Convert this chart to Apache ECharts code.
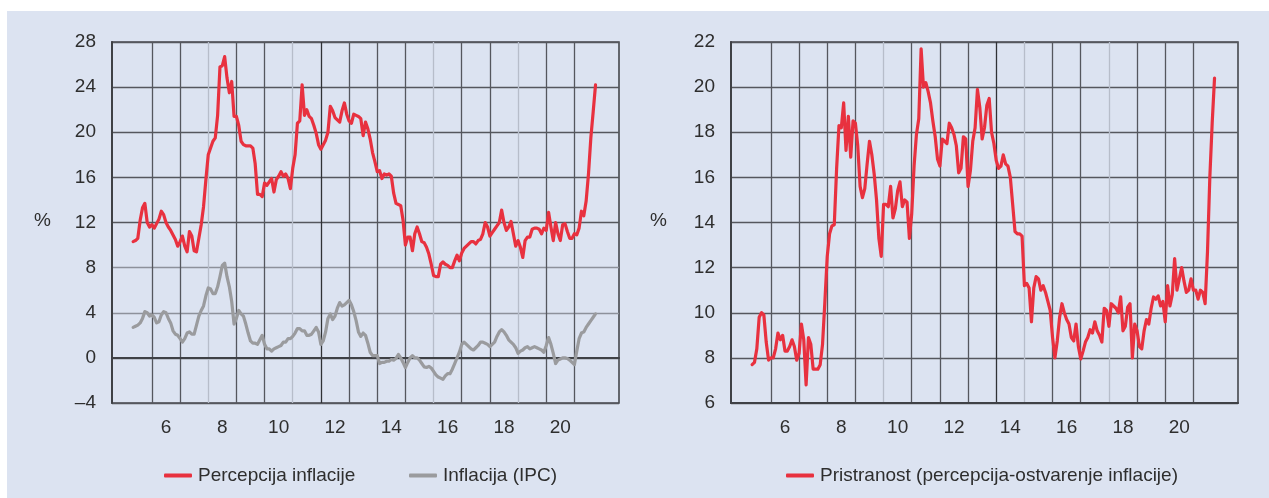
<!DOCTYPE html>
<html>
<head>
<meta charset="utf-8">
<script src="https://cdn.jsdelivr.net/npm/echarts@6/dist/echarts.min.js"></script>
<style>
html,body{margin:0;padding:0;background:#ffffff;}
#chart{width:1269px;height:498px;}
</style>
</head>
<body>
<div id="chart"></div>
<script>
// ---------- DATA (monthly, May 2005 – Oct 2021) ----------
const seriesStart = [2005, 5];   // first month of every series
const axisStart = [2004, 8];     // first month shown on the x axis
const axisMonthCount = 217;      // Aug 2004 – Aug 2022

const percepcija = [
  10.3, 10.4, 10.6, 12.2, 13.3, 13.7, 12.0, 11.6,
  11.8, 11.5, 11.9, 12.3, 13.0, 12.7, 12.0, 11.6, 11.3, 10.9, 10.5, 9.9,
  10.3, 10.8, 9.9, 9.4, 11.2, 10.8, 9.5, 9.4, 10.6, 11.8, 13.4, 15.8,
  18.0, 18.6, 19.2, 19.5, 21.5, 25.8, 25.9, 26.7, 24.8, 23.5, 24.5, 21.4,
  21.4, 20.6, 19.2, 18.9, 18.8, 18.8, 18.8, 18.6, 17.2, 14.5, 14.5, 14.3,
  15.5, 15.3, 15.6, 15.9, 14.7, 15.8, 16.1, 16.5, 16.1, 16.3, 15.9, 15.0,
  16.8, 18.0, 20.8, 21.0, 24.2, 21.5, 22.0, 21.4, 21.2, 20.6, 19.9, 18.9,
  18.5, 18.9, 19.3, 20.0, 22.3, 21.9, 21.3, 21.1, 20.9, 21.9, 22.6, 21.6,
  21.0, 20.8, 21.6, 21.5, 21.4, 21.2, 19.7, 20.9, 20.3, 19.4, 18.2, 17.4,
  16.5, 16.6, 15.9, 16.3, 16.2, 16.3, 16.1, 14.6, 13.7, 13.6, 13.5, 12.2,
  10.0, 10.7, 10.7, 9.5, 11.0, 11.6, 11.0, 10.3, 10.2, 9.8, 9.2, 8.3,
  7.3, 7.2, 7.2, 8.3, 8.5, 8.3, 8.2, 8.0, 8.0, 8.6, 9.1, 8.6,
  9.3, 9.7, 9.9, 10.1, 10.3, 10.3, 10.1, 10.4, 10.5, 11.0, 12.0, 11.6,
  10.8, 11.1, 11.4, 11.7, 12.0, 13.1, 12.0, 11.3, 11.6, 12.1, 11.0, 9.9,
  10.4, 9.8, 8.9, 10.4, 10.7, 10.7, 11.4, 11.5, 11.5, 11.4, 11.0, 11.5,
  11.3, 12.9, 11.6, 10.4, 12.0, 11.0, 10.4, 11.8, 11.9, 11.2, 10.6, 10.6,
  11.0, 10.9, 11.5, 13.0, 12.6, 13.9, 16.3, 19.5, 21.8, 24.2
];

const inflacijaIPC = [
  2.7, 2.8, 2.9, 3.1, 3.5, 4.1, 4.0, 3.7,
  3.8, 3.6, 3.1, 3.2, 3.8, 4.1, 4.0, 3.5, 3.1, 2.4, 2.1, 2.0,
  1.7, 1.4, 1.7, 2.2, 2.3, 2.1, 2.1, 2.9, 3.7, 4.2, 4.6, 5.5,
  6.2, 6.1, 5.7, 5.7, 6.3, 7.2, 8.2, 8.4, 7.2, 6.3, 5.0, 3.0,
  3.5, 4.2, 3.9, 3.7, 3.0, 2.2, 1.5, 1.3, 1.3, 1.2, 1.6, 2.0,
  1.2, 0.8, 0.8, 0.6, 0.8, 0.9, 1.0, 1.1, 1.4, 1.4, 1.7, 1.7,
  1.9, 2.2, 2.6, 2.6, 2.4, 2.4, 2.0, 2.0, 2.1, 2.4, 2.7, 2.3,
  1.2, 1.5, 2.3, 3.5, 3.9, 3.4, 3.7, 4.4, 4.9, 4.6, 4.7, 4.9,
  5.1, 4.7, 4.1, 3.3, 2.3, 1.9, 2.2, 2.0, 1.3, 0.5, 0.2, 0.2,
  0.2, -0.5, -0.4, -0.4, -0.3, -0.3, -0.15, -0.2, -0.05, 0.3, 0.0, -0.4,
  -0.85, -0.4, 0.0, 0.2, 0.0, 0.0, -0.2, -0.5, -0.8, -0.85, -0.75, -0.9,
  -1.2, -1.5, -1.7, -1.8, -1.9, -1.6, -1.4, -1.4, -1.0, -0.5, 0.0, 0.5,
  1.2, 1.4, 1.2, 1.0, 0.8, 0.7, 0.9, 1.1, 1.4, 1.4, 1.3, 1.2,
  1.0, 1.2, 1.4, 1.9, 2.3, 2.5, 2.3, 2.0, 1.6, 1.4, 1.2, 0.9,
  0.4, 0.6, 0.7, 0.9, 1.0, 0.8, 0.9, 1.0, 0.9, 0.8, 0.7, 0.5,
  1.1, 1.8, 1.2, 0.4, -0.5, -0.2, -0.1, 0.0, 0.0, -0.05, -0.2, -0.4,
  -0.6, 0.6, 1.7, 2.2, 2.3, 2.7, 3.0, 3.3, 3.6, 3.9
];

const pristranost = [
  7.7, 7.8, 8.4, 9.8, 10.0, 9.9, 8.7, 7.9,
  8.0, 8.0, 8.4, 9.1, 8.8, 9.0, 8.3, 8.3, 8.5, 8.8, 8.5, 7.9,
  8.2, 9.5, 8.8, 6.8, 8.9, 8.6, 7.5, 7.5, 7.5, 7.7, 8.6, 10.5,
  12.5, 13.5, 13.85, 13.9, 16.4, 18.3, 18.2, 19.3, 17.2, 18.7, 16.9, 18.5,
  18.4, 17.4, 15.6, 15.1, 15.5, 16.6, 17.6, 17.0, 16.15, 15.0, 13.3, 12.5,
  14.8, 14.8, 14.7, 15.6, 14.2, 14.6, 15.4, 15.8, 14.7, 15.0, 14.9, 13.3,
  14.4, 16.5, 17.9, 18.6, 21.7, 20.0, 20.2, 19.8, 19.3, 18.5, 17.8, 16.8,
  16.5, 17.7, 17.6, 17.5, 18.4, 18.2, 17.9, 17.4, 16.2, 16.4, 17.8, 17.7,
  15.6, 16.3, 17.6, 18.2, 19.9, 19.1, 17.7, 18.2, 19.2, 19.5, 18.0, 17.5,
  16.75, 16.4, 16.5, 17.0, 16.6, 16.5, 16.0, 14.8, 13.6, 13.5, 13.5, 13.4,
  11.2, 11.3, 11.1, 9.6, 11.1, 11.6, 11.5, 11.0, 11.2, 10.9, 10.5, 10.1,
  8.9, 8.0, 8.75, 9.8, 10.4, 10.0, 9.7, 9.5, 8.9, 8.75, 9.5, 8.5,
  7.95, 8.3, 8.7, 8.9, 9.25, 9.1, 9.6, 9.2, 9.0, 8.7, 10.2, 10.1,
  9.4, 10.4, 10.3, 10.2, 10.0, 10.7, 9.2, 9.4, 10.25, 10.4, 8.0, 9.5,
  9.2, 8.5, 8.4, 9.2, 9.7, 9.5, 10.2, 10.7, 10.6, 10.75, 10.3, 10.5,
  9.6, 11.2, 10.3, 10.8, 12.4, 11.0, 11.5, 12.0, 11.4, 10.9, 11.0, 11.5,
  11.0, 11.0, 10.6, 11.0, 10.9, 10.4, 12.7, 16.0, 18.4, 20.4
];

const xLabelYears = [2006, 2008, 2010, 2012, 2014, 2016, 2018, 2020];
const xLabelTexts = ['6', '8', '10', '12', '14', '16', '18', '20'];
const gridYears = [2006, 2007, 2008, 2009, 2010, 2011, 2012, 2013, 2014, 2015, 2016, 2017, 2018, 2019, 2020, 2021];
const leftYRange = [-4, 28, 4];
const rightYRange = [6, 22, 2];
const seriesNames = ['Percepcija inflacije', 'Inflacija (IPC)', 'Pristranost (percepcija-ostvarenje inflacije)'];

// ---------- build ----------
const months = [];
for (let i = 0; i < axisMonthCount; i++) {
  const m0 = axisStart[1] - 1 + i;
  const y = axisStart[0] + Math.floor(m0 / 12);
  const m = (m0 % 12) + 1;
  months.push(y + '-' + (m < 10 ? '0' + m : '' + m));
}
const startIdx = (seriesStart[0] - axisStart[0]) * 12 + (seriesStart[1] - axisStart[1]);
const pad = arr => new Array(startIdx).fill(null).concat(arr);

const FONT = "'Liberation Sans', Arial, sans-serif";
const TXT = '#2e2e2e';
const D = '#55575e', L = '#b7bdca', K = '#303236', M = '#8d919b';

const leftVColors  = [D, D, L, D, D, L, K, D, D, D, L, D, D, L, D, D];
const rightVColors = [D, D, D, D, L, D, D, D, K, L, D, D, L, D, D, D];

function xAxis(gridIndex, vColors) {
  return {
    type: 'category', gridIndex, data: months, boundaryGap: false,
    axisLine: {show: true, lineStyle: {color: '#3f4146', width: 2}},
    axisTick: {show: false},
    axisLabel: {
      interval: (i, v) => v.endsWith('-07') && xLabelYears.includes(+v.slice(0, 4)),
      formatter: v => xLabelTexts[xLabelYears.indexOf(+v.slice(0, 4))],
      color: TXT, fontSize: 19, fontFamily: FONT, margin: 15
    },
    splitLine: {
      show: true,
      interval: (i, v) => v.endsWith('-01') && gridYears.includes(+v.slice(0, 4)),
      lineStyle: {color: vColors, width: 1.3}
    }
  };
}
function yAxis(gridIndex, r, hColors) {
  return {
    type: 'value', gridIndex, min: r[0], max: r[1], interval: r[2],
    axisLine: {show: true, lineStyle: {color: '#3f4146', width: 2}},
    axisTick: {show: false},
    axisLabel: {
      formatter: v => (v < 0 ? '\u2013' + Math.abs(v) : '' + v),
      color: TXT, fontSize: 19, fontFamily: FONT, margin: 16
    },
    splitLine: {show: true, lineStyle: {color: hColors, width: 1.3}}
  };
}

const legendText = {fontSize: 19, fontFamily: FONT, color: TXT, padding: [0, 0, 0, 1]};

const chart = echarts.init(document.getElementById('chart'), null, {renderer: 'canvas'});
chart.setOption({
  animation: false,
  backgroundColor: 'transparent',
  graphic: [
    {type: 'rect', z: -10, silent: true, shape: {x: 7, y: 11, width: 1262, height: 487}, style: {fill: '#dce3f1'}},
    {type: 'text', left: 34, top: 211, style: {text: '%', fontSize: 19, fontFamily: FONT, fill: TXT}},
    {type: 'text', left: 650, top: 211, style: {text: '%', fontSize: 19, fontFamily: FONT, fill: TXT}}
  ],
  grid: [
    {left: 112, top: 42, width: 507, height: 361, show: true, borderColor: '#45474d', borderWidth: 1.6, backgroundColor: 'transparent'},
    {left: 731, top: 42, width: 507, height: 361, show: true, borderColor: '#45474d', borderWidth: 1.6, backgroundColor: 'transparent'}
  ],
  xAxis: [xAxis(0, leftVColors), xAxis(1, rightVColors)],
  yAxis: [
    yAxis(0, leftYRange, [D, D, M, M, D, D, D, D, D]),
    yAxis(1, rightYRange, [D, D, D, D, D, D, D, D, D])
  ],
  legend: [
    {data: [seriesNames[0]], left: 159, top: 461, icon: 'roundRect', itemWidth: 28, itemHeight: 4, textStyle: legendText},
    {data: [seriesNames[1]], left: 404, top: 461, icon: 'roundRect', itemWidth: 28, itemHeight: 4, textStyle: legendText},
    {data: [seriesNames[2]], left: 781, top: 461, icon: 'roundRect', itemWidth: 28, itemHeight: 4, textStyle: legendText}
  ],
  series: [
    {name: seriesNames[1], type: 'line', xAxisIndex: 0, yAxisIndex: 0, data: pad(inflacijaIPC),
     showSymbol: false, symbol: 'none', color: '#9a9b9e',
     lineStyle: {color: '#9a9b9e', width: 3.2, join: 'round', cap: 'round'}, z: 3},
    {name: seriesNames[0], type: 'line', xAxisIndex: 0, yAxisIndex: 0, data: pad(percepcija),
     showSymbol: false, symbol: 'none', color: '#e8313f',
     lineStyle: {color: '#e8313f', width: 3.2, join: 'round', cap: 'round'}, z: 4},
    {name: seriesNames[2], type: 'line', xAxisIndex: 1, yAxisIndex: 1, data: pad(pristranost),
     showSymbol: false, symbol: 'none', color: '#e8313f',
     lineStyle: {color: '#e8313f', width: 3.2, join: 'round', cap: 'round'}, z: 4}
  ]
});
</script>
</body>
</html>
